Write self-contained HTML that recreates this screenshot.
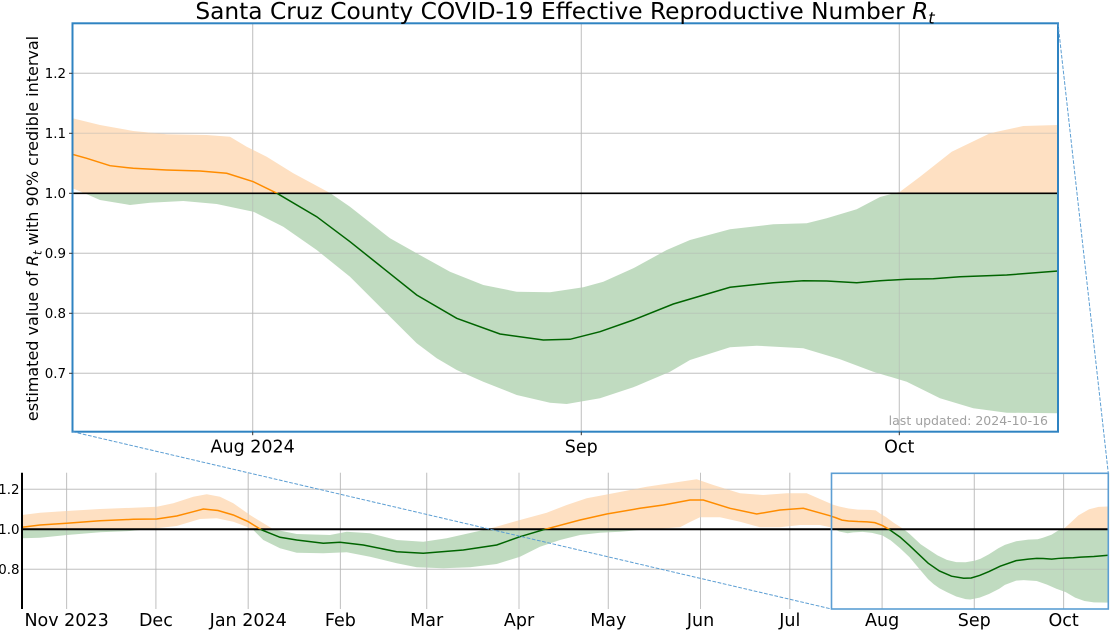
<!DOCTYPE html>
<html><head><meta charset="utf-8"><style>html,body{margin:0;padding:0;background:#fff}svg{display:block}</style></head>
<body>
<svg width="1110" height="630" viewBox="0 0 1110 630" xmlns="http://www.w3.org/2000/svg" font-family="'DejaVu Sans','Liberation Sans',sans-serif">
<defs>
<clipPath id="tA"><rect x="72.5" y="23.3" width="985.5" height="170"/></clipPath>
<clipPath id="tB"><rect x="72.5" y="193.3" width="985.5" height="238.4"/></clipPath>
<clipPath id="bA"><rect x="22" y="472" width="1086.3" height="57.3"/></clipPath>
<clipPath id="bB"><rect x="22" y="529.3" width="1086.3" height="80"/></clipPath>
<path id="tband" d="M72.5,118.3 L100,125 L133.3,131 L166.7,134.3 L206.7,135 L230,136.7 L246.7,146.7 L266.7,156.7 L293.3,173.3 L330,193 L350,206.7 L390,238.3 L416.7,253.3 L450,271.7 L483.3,285 L516.7,291.7 L550,292.3 L583.3,287.3 L603.3,281.7 L633.3,268.3 L666.7,250 L690,240 L730,229.3 L773.3,224.3 L806.7,223.3 L826.7,218.3 L856.7,209.3 L880,197 L900,191.7 L920,176.7 L951.7,151.7 L990,133.3 L1023.3,126 L1058,125 L1058,413.3 L1006.7,412.7 L973.3,408.3 L940,398.3 L906.7,381.7 L873.3,371.7 L840,359.3 L803.3,348.3 L756.7,345.7 L730,347.3 L690,360 L670,371.7 L633.3,387.3 L600,398.3 L566.7,404 L550,402.7 L516.7,395 L483.3,381.7 L456.7,370 L436.7,358.3 L416.7,343.3 L383.3,310 L350,276.7 L316.7,250 L283.3,226.7 L253.3,211.7 L216.7,204 L183.3,201 L150,202.7 L130,205 L100,200 L83.3,192.7 L72.5,188.3 Z"/>
<path id="tmean" vector-effect="non-scaling-stroke" fill="none" d="M72.5,154.3 L86.7,158.3 L110,165.7 L133.3,168.3 L166.7,170 L200,171 L226.7,173.3 L253.3,181.7 L277,193.3 L316.7,216.7 L350,241.7 L383.3,268.3 L416.7,295 L456.7,318.3 L500,334 L543.3,340 L570,339.3 L600,331.7 L633.3,320 L673.3,304 L730,287.3 L773.3,282.7 L803.3,280.7 L826.7,281 L856.7,282.7 L880,280.7 L906.7,279.3 L933.3,278.7 L960,276.7 L1006.7,275 L1058,271"/>
<path id="bband" d="M22,515 L40,512.7 L66.7,511 L100,509 L133.3,507.7 L156.7,506.7 L173.3,503.3 L193.3,496.7 L206.7,494.3 L220,496.7 L233.3,503.3 L250,515 L273.3,529.3 L296.7,534 L330,535 L346.7,531.7 L370,533.3 L396.7,540 L423.3,541.7 L446.7,538.3 L480,530.7 L490,528.5 L520,520 L546.7,512.7 L566.7,505 L586.7,498.3 L613.3,493.3 L646.7,486.7 L680,481.7 L696.7,479.3 L713.3,485 L740,493.3 L763.3,495 L786.7,493.3 L806.7,493.3 L832,504.3 L832,527.6 L820,525 L800,525 L780,527.3 L760,527.3 L740,521.7 L720,517.3 L700,517.3 L690,522 L680,527.3 L640,530 L620,531.7 L600,532.7 L580,535 L560,540 L540,546.7 L520,556.7 L496.7,564 L470,567.3 L443.3,568.3 L416.7,567.3 L396.7,563.3 L370,556.7 L346.7,552.3 L323.3,553.3 L296.7,552.7 L280,548.3 L263.3,540 L253.3,530 L246.7,526.7 L233.3,521.7 L216.7,518.3 L200,519 L176.7,526 L156.7,528.3 L130,531 L100,532.3 L67,535 L40,537.7 L22,538.3 Z"/>
<path id="bmean" fill="none" d="M22,527.3 L40,525 L66.7,523.3 L100,520.7 L133.3,519.3 L156.7,519 L176.7,516 L193.3,511.7 L203.3,509 L218,510.5 L233.3,515 L248.3,521.7 L261.7,530 L280,537.3 L296.7,540 L323.3,543.3 L340,542.3 L363.3,545 L396.7,551.7 L423.3,553.3 L463.3,550 L496.7,545 L520,536.7 L545,529.3 L580,520 L606.7,514 L640,508.3 L663.3,505 L690,500 L703.3,500 L730,508.3 L756.7,514 L780,510 L803.3,508.3 L832,516.3"/>
</defs>

<!-- ================= TOP AXES ================= -->
<g stroke="#d3d3d3" stroke-width="1">
  <line x1="72.5" y1="73.3" x2="1058" y2="73.3"/>
  <line x1="72.5" y1="133.3" x2="1058" y2="133.3"/>
  <line x1="72.5" y1="253.3" x2="1058" y2="253.3"/>
  <line x1="72.5" y1="313.3" x2="1058" y2="313.3"/>
  <line x1="72.5" y1="373.3" x2="1058" y2="373.3"/>
  <line x1="252.7" y1="23.3" x2="252.7" y2="431.7"/>
  <line x1="581.3" y1="23.3" x2="581.3" y2="431.7"/>
  <line x1="899.3" y1="23.3" x2="899.3" y2="431.7"/>
</g>
<use href="#tband" fill="#fee0c2" clip-path="url(#tA)"/>
<use href="#tband" fill="#c0dbc0" clip-path="url(#tB)"/>
<g stroke="#b0b0b0" stroke-opacity="0.45" stroke-width="1">
  <line x1="72.5" y1="73.3" x2="1058" y2="73.3"/>
  <line x1="72.5" y1="133.3" x2="1058" y2="133.3"/>
  <line x1="72.5" y1="253.3" x2="1058" y2="253.3"/>
  <line x1="72.5" y1="313.3" x2="1058" y2="313.3"/>
  <line x1="72.5" y1="373.3" x2="1058" y2="373.3"/>
  <line x1="252.7" y1="23.3" x2="252.7" y2="431.7"/>
  <line x1="581.3" y1="23.3" x2="581.3" y2="431.7"/>
  <line x1="899.3" y1="23.3" x2="899.3" y2="431.7"/>
</g>
<line x1="72.5" y1="193.3" x2="1058" y2="193.3" stroke="#000" stroke-width="1.6"/>
<use href="#tmean" stroke="#ff8c00" stroke-width="1.5" clip-path="url(#tA)"/>
<use href="#tmean" stroke="#006400" stroke-width="1.5" clip-path="url(#tB)"/>
<rect x="72.5" y="23.3" width="985.5" height="408.4" fill="none" stroke="#2f83c2" stroke-width="2"/>
<g stroke="#333" stroke-width="1">
  <line x1="69" y1="73.3" x2="72.5" y2="73.3"/>
  <line x1="69" y1="133.3" x2="72.5" y2="133.3"/>
  <line x1="69" y1="193.3" x2="72.5" y2="193.3"/>
  <line x1="69" y1="253.3" x2="72.5" y2="253.3"/>
  <line x1="69" y1="313.3" x2="72.5" y2="313.3"/>
  <line x1="69" y1="373.3" x2="72.5" y2="373.3"/>
  <line x1="252.7" y1="431.7" x2="252.7" y2="435.2"/>
  <line x1="581.3" y1="431.7" x2="581.3" y2="435.2"/>
  <line x1="899.3" y1="431.7" x2="899.3" y2="435.2"/>
</g>
<g font-size="13.4" fill="#000" text-anchor="end">
  <text x="66" y="78.2">1.2</text>
  <text x="66" y="138.2">1.1</text>
  <text x="66" y="198.2">1.0</text>
  <text x="66" y="258.2">0.9</text>
  <text x="66" y="318.2">0.8</text>
  <text x="66" y="378.2">0.7</text>
</g>
<g font-size="17.5" fill="#000" text-anchor="middle">
  <text x="252.7" y="452.5">Aug 2024</text>
  <text x="581.3" y="452.5">Sep</text>
  <text x="899.3" y="452.5">Oct</text>
</g>
<text x="1048" y="425" font-size="12.5" fill="#a0a0a0" text-anchor="end">last updated: 2024-10-16</text>
<text transform="translate(38,228.5) rotate(-90)" font-size="16" text-anchor="middle" fill="#000">estimated value of <tspan font-style="italic">R</tspan><tspan font-style="italic" font-size="11.2" dy="3.5">t</tspan><tspan dy="-3.5"> with 90% credible interval</tspan></text>
<text x="565" y="19" font-size="23.3" text-anchor="middle" fill="#000">Santa Cruz County COVID-19 Effective Reproductive Number <tspan font-style="italic">R</tspan><tspan font-style="italic" font-size="16.3" dy="4.5">t</tspan></text>

<!-- ================= BOTTOM AXES ================= -->
<g stroke="#d3d3d3" stroke-width="1">
  <line x1="22" y1="489.3" x2="1108.3" y2="489.3"/>
  <line x1="22" y1="569.3" x2="1108.3" y2="569.3"/>
  <line x1="66.6" y1="472.7" x2="66.6" y2="609"/>
  <line x1="155.9" y1="472.7" x2="155.9" y2="609"/>
  <line x1="248.2" y1="472.7" x2="248.2" y2="609"/>
  <line x1="340.4" y1="472.7" x2="340.4" y2="609"/>
  <line x1="426.7" y1="472.7" x2="426.7" y2="609"/>
  <line x1="519" y1="472.7" x2="519" y2="609"/>
  <line x1="608.3" y1="472.7" x2="608.3" y2="609"/>
  <line x1="700.5" y1="472.7" x2="700.5" y2="609"/>
  <line x1="789.8" y1="472.7" x2="789.8" y2="609"/>
  <line x1="882.1" y1="472.7" x2="882.1" y2="609"/>
  <line x1="974.3" y1="472.7" x2="974.3" y2="609"/>
  <line x1="1063.6" y1="472.7" x2="1063.6" y2="609"/>
</g>
<use href="#bband" fill="#fee0c2" clip-path="url(#bA)"/>
<use href="#bband" fill="#c0dbc0" clip-path="url(#bB)"/>
<g clip-path="url(#bA)"><use href="#tband" fill="#fee0c2" transform="matrix(0.2808,0,0,0.33333,811.14,464.87)"/></g>
<g clip-path="url(#bB)"><use href="#tband" fill="#c0dbc0" transform="matrix(0.2808,0,0,0.33333,811.14,464.87)"/></g>
<g stroke="#b0b0b0" stroke-opacity="0.45" stroke-width="1">
  <line x1="22" y1="489.3" x2="1108.3" y2="489.3"/>
  <line x1="22" y1="569.3" x2="1108.3" y2="569.3"/>
  <line x1="66.6" y1="472.7" x2="66.6" y2="609"/>
  <line x1="155.9" y1="472.7" x2="155.9" y2="609"/>
  <line x1="248.2" y1="472.7" x2="248.2" y2="609"/>
  <line x1="340.4" y1="472.7" x2="340.4" y2="609"/>
  <line x1="426.7" y1="472.7" x2="426.7" y2="609"/>
  <line x1="519" y1="472.7" x2="519" y2="609"/>
  <line x1="608.3" y1="472.7" x2="608.3" y2="609"/>
  <line x1="700.5" y1="472.7" x2="700.5" y2="609"/>
  <line x1="789.8" y1="472.7" x2="789.8" y2="609"/>
  <line x1="882.1" y1="472.7" x2="882.1" y2="609"/>
  <line x1="974.3" y1="472.7" x2="974.3" y2="609"/>
  <line x1="1063.6" y1="472.7" x2="1063.6" y2="609"/>
</g>
<line x1="22" y1="529.3" x2="1108.3" y2="529.3" stroke="#000" stroke-width="2"/>
<use href="#bmean" stroke="#ff8c00" stroke-width="1.5" clip-path="url(#bA)"/>
<use href="#bmean" stroke="#006400" stroke-width="1.5" clip-path="url(#bB)"/>
<g clip-path="url(#bA)"><use href="#tmean" stroke="#ff8c00" stroke-width="1.5" transform="matrix(0.2808,0,0,0.33333,811.14,464.87)"/></g>
<g clip-path="url(#bB)"><use href="#tmean" stroke="#006400" stroke-width="1.5" transform="matrix(0.2808,0,0,0.33333,811.14,464.87)"/></g>
<line x1="22" y1="472.7" x2="22" y2="609" stroke="#000" stroke-width="2"/>
<rect x="831.5" y="473.3" width="276.8" height="135.7" fill="none" stroke="#5c9ed3" stroke-width="1.6"/>
<g font-size="13.4" fill="#000" text-anchor="end">
  <text x="19.5" y="494.2">1.2</text>
  <text x="19.5" y="534.2">1.0</text>
  <text x="19.5" y="574.2">0.8</text>
</g>
<g font-size="17.5" fill="#000" text-anchor="middle">
  <text x="66.6" y="626">Nov 2023</text>
  <text x="155.9" y="626">Dec</text>
  <text x="248.2" y="626">Jan 2024</text>
  <text x="340.4" y="626">Feb</text>
  <text x="426.7" y="626">Mar</text>
  <text x="519" y="626">Apr</text>
  <text x="608.3" y="626">May</text>
  <text x="700.5" y="626">Jun</text>
  <text x="789.8" y="626">Jul</text>
  <text x="882.1" y="626">Aug</text>
  <text x="974.3" y="626">Sep</text>
  <text x="1063.6" y="626">Oct</text>
</g>

<g stroke="#5c9ed3" stroke-width="1" stroke-dasharray="3.7,1.6" fill="none">
  <line x1="72.5" y1="431.7" x2="831.5" y2="609"/>
  <line x1="1058" y1="23.3" x2="1108.3" y2="473.3"/>
</g>
</svg>
</body></html>
